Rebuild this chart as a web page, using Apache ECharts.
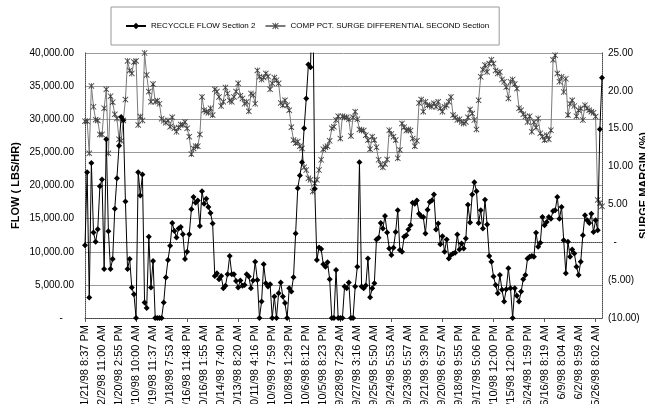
<!DOCTYPE html>
<html>
<head>
<meta charset="utf-8">
<script src="https://cdn.jsdelivr.net/npm/echarts@6/dist/echarts.min.js"></script>
<style>
  html, body { margin: 0; padding: 0; background: #fff; }
  #chart { width: 645px; height: 404px; }
</style>
</head>
<body>
<div id="chart"></div>
<script>
// Time-stamp labels shown on the category axis (one every 8 samples)
const tickLabels = [
  "11/21/98 8:37 PM", "12/2/98 11:00 AM", "11/20/98 2:55 PM", "11/10/98 10:00 AM",
  "10/19/98 11:37 AM", "10/18/98 7:53 AM", "10/16/98 11:48 PM", "10/16/98 1:55 AM",
  "10/14/98 7:40 PM", "10/13/98 8:20 AM", "10/11/98 4:16 PM", "10/9/98 7:59 PM",
  "10/8/98 1:29 PM", "10/6/98 8:12 PM", "10/5/98 8:23 PM", "9/28/98 7:29 AM",
  "9/27/98 3:16 AM", "9/25/98 5:50 AM", "9/24/98 5:53 AM", "9/23/98 5:57 AM",
  "9/21/98 9:39 PM", "9/20/98 6:57 AM", "9/18/98 9:55 PM", "9/17/98 5:06 PM",
  "9/10/98 12:00 PM", "8/15/98 12:00 PM", "6/24/98 1:59 PM", "6/16/98 8:19 AM",
  "6/9/98 8:04 AM", "6/2/98 9:59 AM", "5/26/98 8:02 AM"
];
const LABEL_STEP = 8;

// Recycle flow, section 2 (lbs/hr)
const flowValues = [
  11000,22000,3100,23400,12900,11500,13400,19900,20900,7400,
  27000,13100,7400,8900,16500,21100,26000,30350,29850,17600,
  7400,8900,4600,3600,0,22000,18500,21650,2350,1500,
  12250,4600,8600,0,0,0,0,2350,6100,8750,
  10900,14350,13150,12150,13500,13750,12650,8900,10000,12650,
  16400,18250,17400,17750,13900,19150,17250,18000,16750,15850,
  14250,6350,6750,5850,6350,4500,4850,6600,9350,6600,
  6600,5600,4600,5650,4850,5000,6600,6250,4500,5650,
  8500,5750,0,
  2500,8100,5250,4750,5100,0,3250,0,3750,5350,
  3250,2250,0,4500,4000,6150,12750,19600,21500,23500,
  28650,33150,38250,37850,52000,19500,8750,10650,10400,8100,
  7750,8400,5850,0,0,7250,0,0,0,4750,
  4500,5350,0,0,4750,7750,23500,4750,4500,4900,
  9000,3150,4500,5250,11850,12100,14350,13500,15400,12900,
  10500,9500,10600,13000,16250,10250,10000,12250,12500,13350,
  14000,17400,17250,17750,15750,15350,15250,
  12750,16350,17500,17750,18650,13350,14250,11150,12350,10000,
  11850,9000,9500,9750,9850,12600,10350,11250,10500,12000,
  17100,14400,18650,20500,19150,14350,16250,13500,17850,14100,
  9350,8500,6250,5000,3750,6500,4250,2500,4350,7500,
  4500,0,4500,3350,2500,
  4000,5850,6500,9000,9250,9350,9250,12850,10750,11350,
  15250,14000,14500,15250,15000,16150,16250,18250,15000,16750,
  11750,6750,11500,9250,10350,9750,7750,6500,8500,12500,
  15500,14750,14350,15750,13000,14750,13250,28500,36250
];

// Compressor surge differential, second section (%)
const surgeValues = [
  16.0,16.0,11.75,20.65,17.9,16.2,16.1,14.25,14.25,17.7,
  20.2,11.75,19.3,18.5,16.9,16.35,13.6,13.4,16.1,18.85,
  23.95,22.7,22.3,23.8,23.95,15.5,16.6,16.1,25.0,22.1,
  19.9,18.55,20.9,18.55,18.7,18.3,16.3,16.05,15.8,16.1,
  15.25,16.5,15.05,14.6,15.15,15.55,15.5,15.9,15.05,13.95,
  11.65,12.4,12.7,12.7,14.25,19.2,17.45,17.25,17.1,17.7,
  16.8,20.2,19.9,19.2,18.0,18.55,20.45,19.65,18.75,18.55,
  19.2,19.9,21.0,19.35,19.0,18.3,18.55,17.3,19.65,19.45,
  18.3,22.7,21.85,
  21.5,21.75,22.3,21.9,20.2,21.0,21.75,21.4,21.0,18.4,
  18.1,18.75,18.1,17.45,15.2,13.5,13.1,13.3,12.7,12.4,
  9.9,9.55,8.45,8.25,6.7,7.8,8.25,9.55,10.9,12.3,
  12.55,12.7,13.4,15.05,15.25,16.15,16.65,13.7,16.65,16.5,
  16.5,16.25,14.05,16.5,17.25,16.25,14.9,14.8,14.75,14.15,
  13.5,12.3,13.95,13.5,12.55,10.9,10.25,9.9,10.35,10.95,
  14.8,14.3,13.95,13.5,11.1,12.2,15.7,15.2,14.75,14.9,
  14.75,13.7,12.7,13.4,18.4,18.85,17.25,
  18.55,18.1,18.1,17.9,18.35,17.9,18.55,17.7,17.25,17.9,
  18.1,18.55,19.2,16.8,16.5,16.15,16.25,15.9,15.7,15.9,
  16.5,17.55,17.0,16.15,14.9,18.75,21.85,22.8,23.4,22.5,
  23.6,24.1,23.6,22.7,22.3,22.5,21.5,21.2,20.5,19.0,
  21.2,21.5,20.9,20.3,17.7,
  17.45,16.9,16.6,15.9,16.65,14.6,15.9,15.15,16.35,14.4,
  13.95,13.5,14.15,13.6,14.8,24.1,24.7,22.3,21.2,21.85,
  19.85,21.6,16.8,18.3,18.75,18.0,16.65,17.45,17.7,16.15,
  18.1,17.7,17.45,17.25,17.1,16.6,5.6,5.2,4.75
];

const seriesNames = ["RECYCCLE FLOW Section 2", "COMP PCT. SURGE DIFFERENTIAL SECOND Section"];

const categories = flowValues.map((_, i) => String(i));

const FONT = "'Liberation Sans', Arial, sans-serif";
const STAR = 'path://M0,1 L1,0 L5,4 L9,0 L10,1 L6,5 L10,9 L9,10 L5,6 L1,10 L0,9 L4,5 Z M4.4,0 L5.6,0 L5.6,10 L4.4,10 Z';

function fmtFlow(v) {
  if (v === 0) return '-    ';
  return v.toLocaleString('en-US', { minimumFractionDigits: 2, maximumFractionDigits: 2 });
}
function fmtPct(v) {
  if (v === 0) return '  -';
  if (v < 0) return '(' + Math.abs(v).toFixed(2) + ')';
  return v.toFixed(2);
}

const frameLine = { show: true, lineStyle: { color: '#444', width: 1, type: [1, 1] } };

const chart = echarts.init(document.getElementById('chart'), null, { renderer: 'canvas' });
chart.setOption({
  animation: false,
  backgroundColor: '#fff',
  textStyle: { fontFamily: FONT, color: '#000' },
  legend: {
    left: 111, top: 7,
    padding: [15, 10, 15, 14],
    itemGap: 9,
    itemWidth: 20, itemHeight: 8,
    borderColor: '#999', borderWidth: 1,
    textStyle: { fontFamily: FONT, fontSize: 8, color: '#000' },
    data: seriesNames
  },
  grid: { left: 85, right: 43, top: 53, bottom: 86, containLabel: false, outerBoundsMode: 'none' },
  xAxis: [{
    type: 'category',
    data: categories,
    boundaryGap: false,
    axisLine: frameLine,
    axisTick: { show: true, interval: 23, length: 4, lineStyle: { color: '#555' } },
    splitLine: { show: false },
    axisLabel: {
      interval: LABEL_STEP - 1,
      rotate: 90,
      margin: 7,
      fontSize: 11,
      fontFamily: FONT,
      color: '#000',
      formatter: (v, idx) => tickLabels[idx / LABEL_STEP] || ''
    }
  }, {
    type: 'category',
    data: categories,
    position: 'top',
    boundaryGap: false,
    axisLine: frameLine,
    axisTick: { show: false },
    axisLabel: { show: false }
  }],
  yAxis: [{
    type: 'value',
    min: 0, max: 40000, interval: 5000,
    name: 'FLOW ( LBS/HR)',
    nameLocation: 'middle',
    nameGap: 64,
    nameMoveOverlap: false,
    nameTextStyle: { fontFamily: FONT, fontSize: 11, fontWeight: 'bold', color: '#000' },
    axisLine: frameLine,
    axisTick: { show: false },
    splitLine: { show: true, lineStyle: { color: '#9a9a9a', width: 1 } },
    axisLabel: { fontSize: 10, fontFamily: FONT, color: '#000', margin: 11, formatter: fmtFlow }
  }, {
    type: 'value',
    position: 'right',
    min: -10, max: 25, interval: 5,
    name: 'SURGE MARGIN (%)',
    nameLocation: 'middle',
    nameRotate: 90,
    nameGap: 36,
    nameMoveOverlap: false,
    nameTextStyle: { fontFamily: FONT, fontSize: 11, fontWeight: 'bold', color: '#000' },
    axisLine: frameLine,
    axisTick: { show: false },
    splitLine: { show: false },
    axisLabel: { fontSize: 10, fontFamily: FONT, color: '#000', margin: 6, formatter: fmtPct }
  }],
  series: [{
    name: seriesNames[0],
    type: 'line',
    xAxisIndex: 0, yAxisIndex: 0,
    data: flowValues,
    clip: true,
    symbol: 'diamond',
    symbolSize: 6,
    showAllSymbol: true,
    lineStyle: { color: '#000', width: 1 },
    itemStyle: { color: '#000' },
    z: 3
  }, {
    name: seriesNames[1],
    type: 'line',
    xAxisIndex: 0, yAxisIndex: 1,
    data: surgeValues,
    clip: true,
    symbol: STAR,
    symbolSize: 6,
    showAllSymbol: true,
    lineStyle: { color: '#7a7a7a', width: 1 },
    itemStyle: { color: '#444' },
    z: 2
  }]
});
</script>
</body>
</html>
